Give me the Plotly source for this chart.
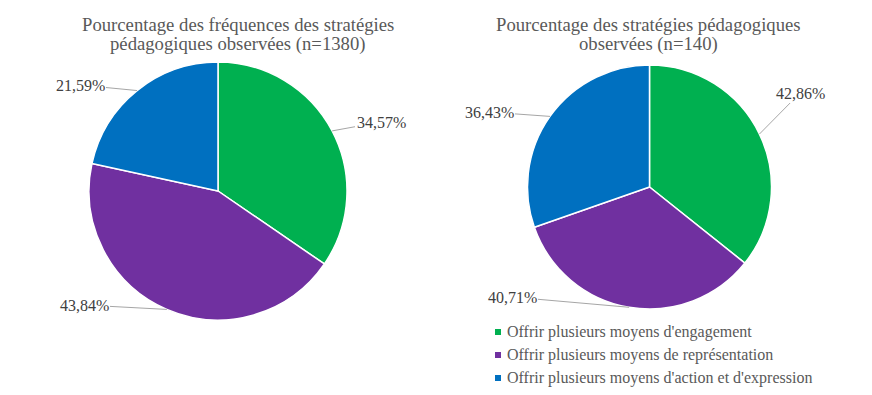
import math
import plotly.graph_objects as go

# ---------------- data ----------------
categories = [
    "Offrir plusieurs moyens d'engagement",
    "Offrir plusieurs moyens de représentation",
    "Offrir plusieurs moyens d'action et d'expression",
]
left_values = [34.57, 43.84, 21.59]    # % des fréquences (n=1380)
right_values = [42.86, 40.71, 36.43]   # % des stratégies (n=140)
left_title = ["Pourcentage des fréquences des stratégies",
              "pédagogiques observées (n=1380)"]
right_title = ["Pourcentage des stratégies pédagogiques",
               "observées (n=140)"]
colors = ["#00B050", "#7030A0", "#0070C0"]

# ---------------- layout constants ----------------
W, H = 872, 395
FONT = "Liberation Serif"
pies = [
    dict(values=left_values, cx=218, cy=191, r=129, title=left_title, tx=238,
         labels_px=[(381, 122), (84, 305), (80, 85)]),
    dict(values=right_values, cx=649.5, cy=187, r=122, title=right_title, tx=648,
         labels_px=[(800, 93), (512, 297), (489, 112)]),
]


def px(x):
    return x / W


def py(y):
    return 1 - y / H


def fmt(v):
    return f"{v:.2f}".replace(".", ",") + "%"


fig = go.Figure()
annotations = []
shapes = []

for p in pies:
    cx, cy, r = p["cx"], p["cy"], p["r"]
    fig.add_trace(go.Pie(
        labels=categories,
        values=p["values"],
        sort=False,
        direction="clockwise",
        rotation=0,
        textinfo="none",
        hoverinfo="label+percent",
        marker=dict(colors=colors, line=dict(color="white", width=1.5)),
        domain=dict(x=[px(cx - r), px(cx + r)], y=[py(cy + r), py(cy - r)]),
        showlegend=False,
    ))
    total = sum(p["values"])
    cum = 0
    for v, (lx, ly) in zip(p["values"], p["labels_px"]):
        mid = (cum + v / 2) / total * 2 * math.pi
        cum += v
        ex = cx + r * math.sin(mid)
        ey = cy - r * math.cos(mid)
        annotations.append(dict(
            x=px(ex), y=py(ey), xref="paper", yref="paper",
            ax=lx - ex, ay=ly - ey, axref="pixel", ayref="pixel",
            text=fmt(v), showarrow=True, arrowhead=0, arrowwidth=1,
            arrowcolor="#A6A6A6", standoff=0, startstandoff=0,
            font=dict(family=FONT, size=16, color="#404040"),
        ))
    for i, line in enumerate(p["title"]):
        annotations.append(dict(
            x=px(p["tx"]), y=py(24.5 + 19 * i), xref="paper", yref="paper",
            text=line, showarrow=False, xanchor="center", yanchor="middle",
            font=dict(family=FONT, size=18.7, color="#595959"),
        ))

# legend (custom, bottom right)
for i, (cat, col) in enumerate(zip(categories, colors)):
    yc = 332 + 23 * i
    shapes.append(dict(type="rect", xref="paper", yref="paper",
                       x0=px(495), x1=px(501), y0=py(yc + 3), y1=py(yc - 3),
                       fillcolor=col, line=dict(width=0)))
    annotations.append(dict(
        x=px(505), y=py(yc), xref="paper", yref="paper", text=cat,
        showarrow=False, xanchor="left", yanchor="middle",
        font=dict(family=FONT, size=16, color="#595959"),
    ))

fig.update_layout(
    width=W, height=H,
    margin=dict(l=0, r=0, t=0, b=0),
    paper_bgcolor="white", plot_bgcolor="white",
    annotations=annotations, shapes=shapes,
    showlegend=False,
)

fig.write_html("out.html", config={"displayModeBar": False},
               post_script="document.body.style.margin='0px';")
